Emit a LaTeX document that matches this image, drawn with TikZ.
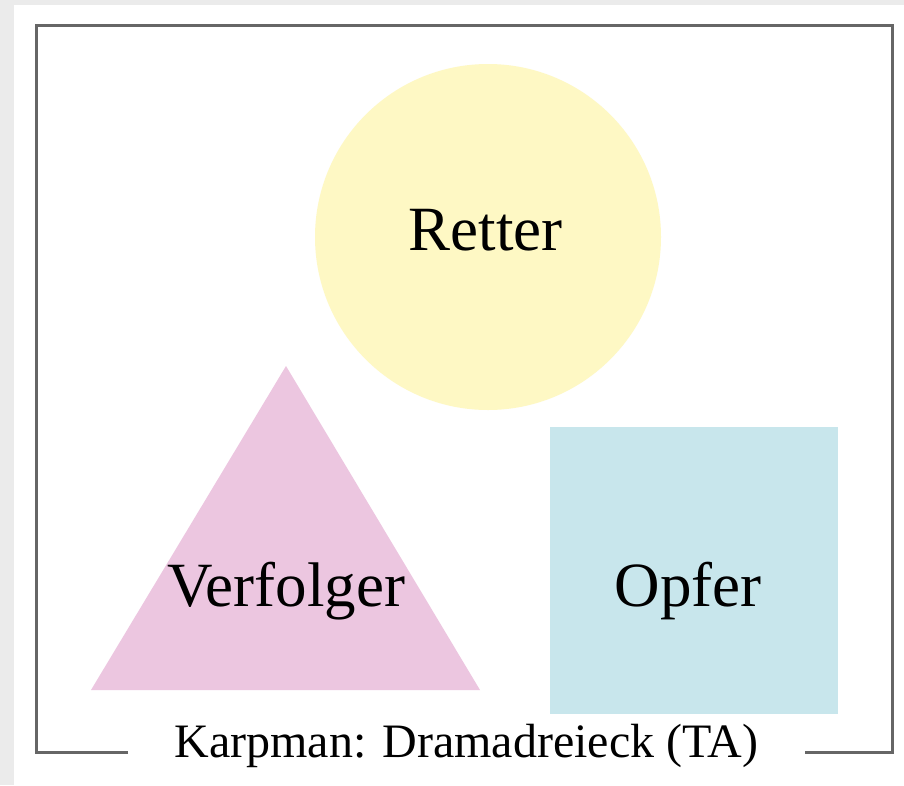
\documentclass[tikz,border=0pt]{standalone}
\usepackage{fontspec}
\setmainfont{Liberation Serif}
\definecolor{bggray}{HTML}{EBEBEB}
\definecolor{framegray}{HTML}{666666}
\definecolor{retteryellow}{HTML}{FEF8C4}
\definecolor{verfolgerpink}{HTML}{ECC6E0}
\definecolor{opferblue}{HTML}{C8E6EC}
\tikzset{
  roletext/.style={font=\fontsize{63}{72}\selectfont, text=black, anchor=base, inner sep=0pt},
  captiontext/.style={font=\fontsize{48}{55}\selectfont, text=black, anchor=base, inner sep=0pt},
  framestyle/.style={draw=framegray, line width=3pt},
}
\begin{document}
\begin{tikzpicture}[x=1pt,y=-1pt]
\useasboundingbox (0,0) rectangle (904,785);
\fill[bggray] (0,0) rectangle (904,785);
\fill[white] (14,5) rectangle (904,785);
% frame with gap for caption
\coordinate (fgl) at (128,752);
\coordinate (fgr) at (805,752);
\draw[framestyle] (fgl) -| (36.5,25.5) -| (892.5,752) -- (fgr);
% Retter circle
\node[circle, fill=retteryellow, minimum size=346pt, inner sep=0pt] (retterc) at (488,237) {};
\node[roletext] (retter) at (485.5,250) {Retter};
% Verfolger triangle
\coordinate (tapex) at (286,366);
\coordinate (tleft) at (91,690);
\coordinate (tright) at (480,690);
\fill[verfolgerpink] (tapex) -- (tleft) -- (tright) -- cycle;
\node[roletext] (verfolger) at (286,606.5) {Verfolger};
% Opfer square
\node[fill=opferblue, minimum width=288pt, minimum height=287pt, inner sep=0pt] (opferbox) at (694,570.5) {};
\node[roletext] (opfer) at (688,606) {Opfer};
% caption
\node[captiontext] (caption) at (466.5,757.5) {Karpman: Dramadreieck (TA)};
\end{tikzpicture}
\end{document}
